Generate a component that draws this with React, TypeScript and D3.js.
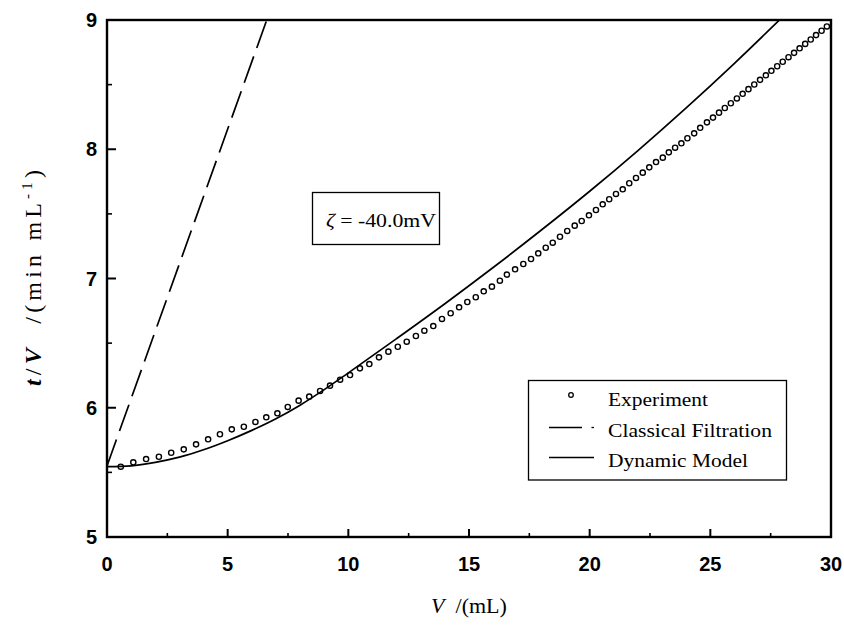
import React from "react";
import * as d3 from "d3";

// Experiment (V in mL, t/V in min/mL)
const expV = [
  0.57, 1.09, 1.62, 2.15, 2.66, 3.18, 3.69, 4.19, 4.68, 5.17,
  5.67, 6.15, 6.6, 7.06, 7.49, 7.94, 8.38, 8.83, 9.24, 9.66,
  10.07, 10.48, 10.87, 11.27, 11.66, 12.05, 12.42, 12.8, 13.15, 13.52,
  13.88, 14.24, 14.59, 14.93, 15.28, 15.61, 15.95, 16.28, 16.57, 16.91,
  17.25, 17.57, 17.87, 18.18, 18.47, 18.77, 19.07, 19.38, 19.67, 19.97,
  20.26, 20.54, 20.81, 21.09, 21.37, 21.64, 21.92, 22.2, 22.47, 22.75,
  23.03, 23.28, 23.54, 23.8, 24.05, 24.33, 24.58, 24.86, 25.11, 25.36,
  25.6, 25.85, 26.1, 26.34, 26.58, 26.82, 27.06, 27.3, 27.53, 27.77,
  28.0, 28.24, 28.47, 28.7, 28.93, 29.16, 29.38, 29.61, 29.83,
];
const expTV = [
  5.544, 5.578, 5.603, 5.621, 5.652, 5.678, 5.717, 5.756, 5.795, 5.833,
  5.853, 5.89, 5.926, 5.957, 6.006, 6.055, 6.086, 6.13, 6.171, 6.217,
  6.253, 6.305, 6.338, 6.39, 6.434, 6.472, 6.511, 6.555, 6.596, 6.632,
  6.687, 6.731, 6.777, 6.818, 6.855, 6.901, 6.937, 6.983, 7.03, 7.071,
  7.112, 7.151, 7.195, 7.238, 7.277, 7.323, 7.368, 7.409, 7.445, 7.489,
  7.53, 7.574, 7.613, 7.654, 7.69, 7.737, 7.778, 7.819, 7.86, 7.901,
  7.935, 7.976, 8.012, 8.046, 8.085, 8.123, 8.166, 8.208, 8.245, 8.283,
  8.319, 8.356, 8.393, 8.429, 8.465, 8.501, 8.537, 8.572, 8.607, 8.642,
  8.677, 8.712, 8.746, 8.781, 8.815, 8.849, 8.883, 8.917, 8.95,
];

// Dynamic model
const dynV = [0, 1, 2, 3, 4, 5, 6, 7, 8, 9, 10, 12, 14, 16, 18, 20, 22, 24, 26, 28];
const dynTV = [5.544, 5.551, 5.578, 5.618, 5.675, 5.745, 5.825, 5.915, 6.02, 6.14, 6.27, 6.535, 6.805, 7.085, 7.375, 7.675, 7.99, 8.32, 8.665, 9.025];

// Classical filtration
const clsV = [0, 6.62];
const clsTV = [5.55, 9.0];

const xTicks = [0, 5, 10, 15, 20, 25, 30];
const xMinor = [2.5, 7.5, 12.5, 17.5, 22.5, 27.5];
const yTicks = [5, 6, 7, 8, 9];
const yMinor = [5.5, 6.5, 7.5, 8.5];

const legendLabels = ["Experiment", "Classical Filtration", "Dynamic Model"];
const legendWidths = [100, 164, 140];

export default function App() {
  const W = 844, H = 632;
  const L = 107, R = 831, T = 20, B = 537;
  const x = d3.scaleLinear().domain([0, 30]).range([L, R]);
  const y = d3.scaleLinear().domain([5, 9]).range([B, T]);

  const dynPath =
    d3.line<[number, number]>().x((d) => x(d[0])).y((d) => y(d[1])).curve(d3.curveMonotoneX)(
      dynV.map((v, i) => [v, dynTV[i]]) as [number, number][]
    ) || "";
  const clsPath =
    d3.line<[number, number]>().x((d) => x(d[0])).y((d) => y(d[1]))(
      clsV.map((v, i) => [v, clsTV[i]]) as [number, number][]
    ) || "";

  const serif = "'Liberation Serif', 'Times New Roman', serif";
  const sans = "'Liberation Sans', Arial, sans-serif";

  return (
    <svg width={W} height={H} style={{ position: "absolute", left: 0, top: 0, background: "#fff" }}>
      <rect x={0} y={0} width={W} height={H} fill="#fff" />
      <defs>
        <clipPath id="plot">
          <rect x={L} y={T} width={R - L} height={B - T} />
        </clipPath>
      </defs>

      <g clipPath="url(#plot)">
        <path d={clsPath} fill="none" stroke="#000" strokeWidth={1.7} strokeDasharray="28,9" />
        {expV.map((v, i) => (
          <circle key={i} cx={x(v)} cy={y(expTV[i])} r={2.6} fill="#fff" stroke="#000" strokeWidth={1.4} />
        ))}
        <path d={dynPath} fill="none" stroke="#000" strokeWidth={1.7} />
      </g>

      {/* frame */}
      <rect x={L} y={T} width={R - L} height={B - T} fill="none" stroke="#000" strokeWidth={2.4} />

      {/* x ticks */}
      {xTicks.map((t) => (
        <g key={"xt" + t}>
          <line x1={x(t)} x2={x(t)} y1={B} y2={B - 8} stroke="#000" strokeWidth={2} />
          <text x={x(t)} y={571} textAnchor="middle" fontFamily={sans} fontWeight="bold" fontSize={20}>{t}</text>
        </g>
      ))}
      {xMinor.map((t) => (
        <line key={"xm" + t} x1={x(t)} x2={x(t)} y1={B} y2={B - 4} stroke="#000" strokeWidth={1.6} />
      ))}

      {/* y ticks */}
      {yTicks.map((t) => (
        <g key={"yt" + t}>
          <line x1={L} x2={L + 9} y1={y(t)} y2={y(t)} stroke="#000" strokeWidth={2} />
          <text x={97} y={y(t) + 7} textAnchor="end" fontFamily={sans} fontWeight="bold" fontSize={20}>{t}</text>
        </g>
      ))}
      {yMinor.map((t) => (
        <line key={"ym" + t} x1={L} x2={L + 5} y1={y(t)} y2={y(t)} stroke="#000" strokeWidth={1.6} />
      ))}

      {/* axis titles */}
      <text x={469} y={613} textAnchor="middle" fontFamily={serif} fontSize={22}>
        <tspan fontStyle="italic">V</tspan>
        <tspan xmlSpace="preserve">{"  /(mL)"}</tspan>
      </text>
      <text
        transform="translate(41,386) rotate(-90)"
        fontFamily={serif}
        fontSize={24}
        textLength={216}
        lengthAdjust="spacing"
      >
        <tspan fontStyle="italic" fontWeight="bold">t</tspan>
        <tspan>/</tspan>
        <tspan fontStyle="italic" fontWeight="bold">V</tspan>
        <tspan xmlSpace="preserve">{"  /(min mL"}</tspan>
        <tspan fontSize={15} dy={-9}>-1</tspan>
        <tspan dy={9}>)</tspan>
      </text>

      {/* annotation box */}
      <rect x={312.5} y={192.5} width={127} height={52} fill="#fff" stroke="#000" strokeWidth={1.3} />
      <text x={326} y={227} fontFamily={serif} fontSize={19} textLength={110} lengthAdjust="spacingAndGlyphs">
        <tspan fontStyle="italic">ζ</tspan>
        <tspan> = -40.0mV</tspan>
      </text>

      {/* legend */}
      <rect x={528.5} y={380.5} width={258} height={99.5} fill="#fff" stroke="#000" strokeWidth={1.3} />
      <circle cx={571} cy={395} r={2.3} fill="#fff" stroke="#000" strokeWidth={1.3} />
      <line x1={549} x2={582} y1={427.5} y2={427.5} stroke="#000" strokeWidth={1.3} />
      <line x1={591.5} x2={594} y1={427.5} y2={427.5} stroke="#000" strokeWidth={1.3} />
      <line x1={549} x2={594} y1={457.5} y2={457.5} stroke="#000" strokeWidth={1.3} />
      {legendLabels.map((lab, i) => (
        <text
          key={lab}
          x={608}
          y={406 + i * 30.5}
          fontFamily={serif}
          fontSize={18}
          textLength={legendWidths[i]}
          lengthAdjust="spacingAndGlyphs"
        >
          {lab}
        </text>
      ))}
    </svg>
  );
}
